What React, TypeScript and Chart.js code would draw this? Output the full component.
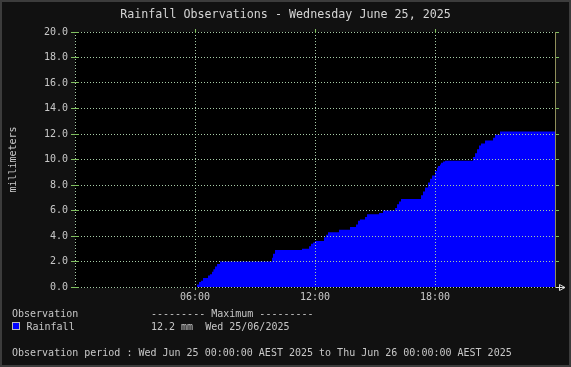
import React, { useEffect, useRef } from 'react';
import { Chart, registerables } from 'chart.js';
Chart.register(...registerables);

const TITLE = 'Rainfall Observations - Wednesday June 25, 2025';
const Y_LABEL = 'millimeters';
const X_TICK_HOURS = [6, 12, 18];
const X_TICK_LABELS = ['06:00', '12:00', '18:00'];
const Y_TICK_VALUES = [0, 2, 4, 6, 8, 10, 12, 14, 16, 18, 20];
const Y_TICK_LABELS = ['0.0', '2.0', '4.0', '6.0', '8.0', '10.0', '12.0', '14.0', '16.0', '18.0', '20.0'];

// hours since midnight, cumulative rainfall (mm) from that time on
const HOURS = [0, 6.0, 6.1, 6.2, 6.3, 6.4, 6.65, 6.75, 6.85, 6.92, 7.0, 7.1, 7.25, 9.85, 9.9, 10.0, 11.35, 11.7, 11.8, 11.9, 12.0, 12.45, 12.55, 12.65, 13.2, 13.75, 14.05, 14.15, 14.25, 14.5, 14.6, 15.2, 15.4, 16.0, 16.1, 16.2, 16.3, 17.3, 17.4, 17.5, 17.65, 17.75, 17.85, 18.0, 18.1, 18.15, 18.25, 18.3, 18.4, 18.5, 19.9, 20.0, 20.1, 20.2, 20.3, 20.5, 20.9, 21.0, 21.25, 24];
const RAINFALL_MM = [0, 0, 0.2, 0.4, 0.5, 0.7, 0.9, 1.0, 1.2, 1.4, 1.6, 1.8, 2.0, 2.3, 2.6, 2.9, 3.0, 3.2, 3.4, 3.5, 3.6, 3.9, 4.1, 4.3, 4.5, 4.7, 4.9, 5.2, 5.3, 5.5, 5.7, 5.8, 6.0, 6.2, 6.5, 6.7, 6.9, 7.2, 7.5, 7.8, 8.2, 8.5, 8.75, 9.1, 9.35, 9.5, 9.6, 9.75, 9.85, 9.9, 10.2, 10.5, 10.8, 11.1, 11.25, 11.5, 11.7, 11.95, 12.2, 12.2];

const LEGEND_HEADER = 'Observation';
const MAX_HEADER = '--------- Maximum ---------';
const SERIES_NAME = 'Rainfall';
const MAX_TEXT = '12.2 mm  Wed 25/06/2025';
const PERIOD_TEXT = 'Observation period : Wed Jun 25 00:00:00 AEST 2025 to Thu Jun 26 00:00:00 AEST 2025';

const W = 571;
const H = 367;
const FONT = '"DejaVu Sans Mono", monospace';
const TEXT = '#c8c8c8';
const TITLE_COLOR = '#d4d4d4';
const GRID = '#a8cca8';
const TICK = '#80c060';
const FRAME = '#3c3c3c';
const BG = '#111111';
const AREA = '#0000ff';

const rrdPlugin = {
  id: 'rrd',
  beforeDraw(chart: any) {
    const { ctx, chartArea: a } = chart;
    ctx.save();
    ctx.fillStyle = FRAME;
    ctx.fillRect(0, 0, W, H);
    ctx.fillStyle = BG;
    ctx.fillRect(2, 2, W - 4, H - 4);
    ctx.fillStyle = '#000000';
    ctx.fillRect(a.left, a.top, a.right - a.left + 1, a.bottom - a.top + 1);
    ctx.restore();
  },
  afterDraw(chart: any) {
    const { ctx, chartArea: a, scales } = chart;
    ctx.save();
    ctx.lineWidth = 1;
    // left axis
    ctx.strokeStyle = GRID;
    ctx.setLineDash([1, 2]);
    ctx.beginPath();
    ctx.moveTo(a.left + 0.5, a.top);
    ctx.lineTo(a.left + 0.5, a.bottom + 1);
    ctx.stroke();
    ctx.setLineDash([]);
    // right frame line
    ctx.strokeStyle = '#8f8f5a';
    ctx.beginPath();
    ctx.moveTo(a.right + 0.5, a.top);
    ctx.lineTo(a.right + 0.5, a.bottom + 1);
    ctx.stroke();
    // inner solid ticks on left
    ctx.strokeStyle = TICK;
    Y_TICK_VALUES.forEach((v) => {
      const y = Math.round(scales.y.getPixelForValue(v) - 0.5) + 0.5;
      ctx.beginPath();
      ctx.moveTo(a.left, y);
      ctx.lineTo(a.left + 4, y);
      ctx.stroke();
    });
    // top ticks
    X_TICK_HOURS.forEach((h) => {
      const x = Math.round(scales.x.getPixelForValue(h) - 0.5) + 0.5;
      ctx.beginPath();
      ctx.moveTo(x, a.top - 3);
      ctx.lineTo(x, a.top + 1);
      ctx.stroke();
    });
    // arrow
    const ay = a.bottom + 0.5;
    ctx.strokeStyle = '#e0e0e0';
    ctx.beginPath();
    ctx.moveTo(a.right + 1, ay);
    ctx.lineTo(a.right + 10, ay);
    ctx.stroke();
    ctx.beginPath();
    ctx.moveTo(a.right + 4.5, ay - 3);
    ctx.lineTo(a.right + 4.5, ay + 3);
    ctx.lineTo(a.right + 10, ay);
    ctx.closePath();
    ctx.stroke();
    // texts
    ctx.textBaseline = 'middle';
    ctx.fillStyle = TITLE_COLOR;
    ctx.font = `11.7px ${FONT}`;
    ctx.textAlign = 'center';
    ctx.fillText(TITLE, W / 2, 15);
    ctx.fillStyle = TEXT;
    ctx.font = `10px ${FONT}`;
    ctx.save();
    ctx.translate(13, (a.top + a.bottom) / 2);
    ctx.rotate(-Math.PI / 2);
    ctx.fillText(Y_LABEL, 0, 0);
    ctx.restore();
    ctx.textAlign = 'left';
    ctx.fillText(LEGEND_HEADER, 12, 314);
    ctx.fillText(MAX_HEADER, 151, 314);
    ctx.fillText(SERIES_NAME, 26.5, 327);
    ctx.fillText(MAX_TEXT, 151, 327);
    ctx.fillText(PERIOD_TEXT, 12, 353);
    ctx.fillStyle = AREA;
    ctx.fillRect(12, 322, 8, 8);
    ctx.strokeStyle = '#bbbbbb';
    ctx.strokeRect(12.5, 322.5, 7, 7);
    ctx.restore();
  },
};

export default function App() {
  const ref = useRef<HTMLCanvasElement | null>(null);
  useEffect(() => {
    document.body.style.margin = '0';
    const canvas = ref.current!;
    const chart = new Chart(canvas, {
      type: 'line',
      data: {
        datasets: [
          {
            label: SERIES_NAME,
            data: HOURS.map((h, i) => ({ x: h, y: RAINFALL_MM[i] })),
            stepped: 'before',
            fill: 'origin',
            backgroundColor: AREA,
            borderColor: 'rgba(0,0,0,0)',
            borderWidth: 0,
            pointRadius: 0,
          },
        ],
      },
      options: {
        animation: false,
        responsive: false,
        devicePixelRatio: 1,
        layout: { padding: { top: 32, left: 0, right: 0, bottom: 0 } },
        plugins: {
          legend: { display: false },
          title: { display: false },
          tooltip: { enabled: false },
        },
        scales: {
          x: {
            type: 'linear',
            position: 'bottom',
            min: 0,
            max: 24,
            afterBuildTicks: (s: any) => {
              s.ticks = X_TICK_HOURS.map((v) => ({ value: v }));
            },
            afterFit: (s: any) => {
              s.height = 80;
            },
            ticks: {
              autoSkip: false,
              maxRotation: 0,
              padding: 1,
              color: TEXT,
              font: { family: FONT, size: 10 },
              callback: (v: any) => {
                const i = X_TICK_HOURS.indexOf(Number(v));
                return i >= 0 ? X_TICK_LABELS[i] : '';
              },
            },
            grid: { z: 1, color: GRID, tickColor: TICK, tickLength: 3, lineWidth: 1 },
            border: { display: false, dash: [1, 2] },
          },
          y: {
            type: 'linear',
            position: 'left',
            min: 0,
            max: 20,
            afterBuildTicks: (s: any) => {
              s.ticks = Y_TICK_VALUES.map((v) => ({ value: v }));
            },
            afterFit: (s: any) => {
              s.width = 75;
            },
            ticks: {
              padding: 3,
              color: TEXT,
              font: { family: FONT, size: 10 },
              callback: (v: any) => {
                const i = Y_TICK_VALUES.indexOf(Number(v));
                return i >= 0 ? Y_TICK_LABELS[i] : '';
              },
            },
            grid: { z: 1, color: GRID, tickColor: TICK, tickLength: 4, lineWidth: 1 },
            border: { display: false, dash: [1, 2] },
          },
          yRight: {
            type: 'linear',
            position: 'right',
            min: 0,
            max: 20,
            afterBuildTicks: (s: any) => {
              s.ticks = Y_TICK_VALUES.map((v) => ({ value: v }));
            },
            afterFit: (s: any) => {
              s.width = 16;
            },
            ticks: { display: false },
            grid: { z: 1, drawOnChartArea: false, tickColor: TICK, tickLength: 4 },
            border: { display: false },
          },
        },
      } as any,
      plugins: [rrdPlugin],
    });
    return () => chart.destroy();
  }, []);
  return (
    <div style={{ width: W, height: H }}>
      <canvas ref={ref} width={W} height={H} style={{ display: 'block', width: W, height: H }} />
    </div>
  );
}
